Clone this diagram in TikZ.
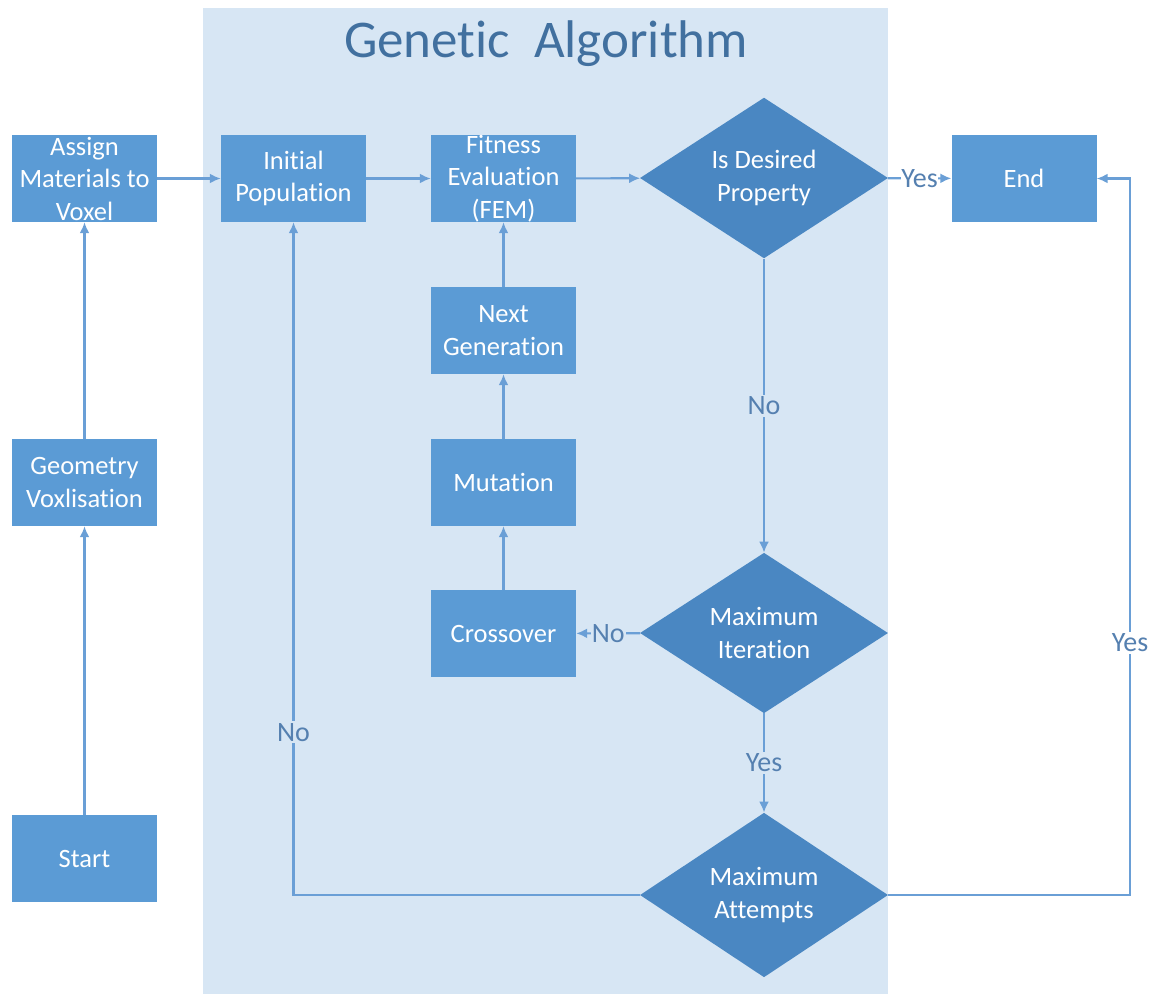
\documentclass[tikz,border=0pt]{standalone}
\usepackage{fontspec}
\setmainfont{Carlito}[Ligatures=NoCommon]
\usetikzlibrary{shapes.geometric,arrows.meta}
\definecolor{boxblue}{HTML}{5B9BD5}
\definecolor{diablue}{HTML}{4A87C2}
\definecolor{gabg}{HTML}{D7E6F4}
\definecolor{lineblue}{HTML}{6A9FD6}
\definecolor{lblblue}{HTML}{5580B0}
\definecolor{ttlblue}{HTML}{41709F}
\begin{document}
\begin{tikzpicture}[x=1pt,y=-1pt,
  stepbox/.style={rectangle, fill=boxblue, text=white, minimum width=145pt, minimum height=87pt, inner sep=0pt, align=center, font=\fontsize{26.5}{32.5}\selectfont},
  decide/.style={diamond, fill=diablue, text=white, minimum width=248pt, minimum height=160pt, inner sep=0pt, align=center, font=\fontsize{26.5}{33}\selectfont},
  link/.style={draw=lineblue, line width=2.1pt, -{Latex[length=11pt,width=10pt]}},
  lbl/.style={fill=gabg, text=lblblue, inner sep=2pt, font=\fontsize{28}{30}\selectfont}]
  \useasboundingbox (0,0) rectangle (1153,994);
  \fill[gabg] (203,8) rectangle (888,994); % genetic algorithm area
  \node[text=ttlblue, font=\fontsize{53}{60}\selectfont] (title) at (546,44) {Genetic~~Algorithm};

  % left column
  \node[stepbox] (assign) at (84.5,178.5) {Assign\\Materials to\\Voxel};
  \node[stepbox] (geometry) at (84.5,482.5) {Geometry\\Voxlisation};
  \node[stepbox] (start) at (84.5,858.5) {Start};

  % inside the GA
  \node[stepbox] (initpop) at (293.5,178.5) {Initial\\Population};
  \node[stepbox] (fitness) at (503.5,178.5) {Fitness\\Evaluation\\(FEM)};
  \node[stepbox] (nextgen) at (503.5,330.5) {Next\\Generation};
  \node[stepbox] (mutation) at (503.5,482.5) {Mutation};
  \node[stepbox] (crossover) at (503.5,633.5) {Crossover};
  \node[decide] (desired) at (764,178) {Is Desired\\Property};
  \node[decide] (iteration) at (764,633) {Maximum\\Iteration};
  \node[decide] (attempts) at (764,895) {Maximum\\Attempts};

  % right
  \node[stepbox] (endbox) at (1024,178.5) {End};
  \coordinate (rside) at (1130,895);

  \draw[link] (start) -- (geometry);
  \draw[link] (geometry) -- (assign);
  \draw[link] (assign) -- (initpop);
  \draw[link] (initpop) -- (fitness);
  \draw[link] (fitness) -- (desired);
  \draw[link] (desired) -- node[lbl, fill=white, inner sep=0pt]{Yes} (endbox);
  \draw[link] (desired) -- node[lbl]{No} (iteration);
  \draw[link] (iteration) -- node[lbl, inner sep=1pt]{No} (crossover);
  \draw[link] (crossover) -- (mutation);
  \draw[link] (mutation) -- (nextgen);
  \draw[link] (nextgen) -- (fitness);
  \draw[link] (iteration) -- node[lbl]{Yes} (attempts);
  \draw[link] (attempts.west) -| node[lbl, pos=0.621]{No} (initpop.south);
  \draw[link] (attempts.east) -- (rside) |- node[lbl, fill=white, pos=0.176]{Yes} (endbox.east);
\end{tikzpicture}
\end{document}
